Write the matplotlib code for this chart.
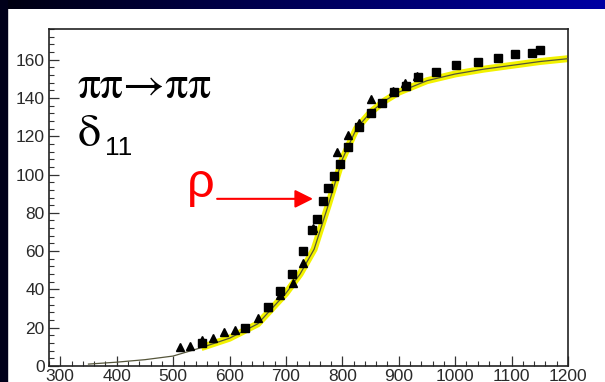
import numpy as np
import matplotlib
matplotlib.use('Agg')
import matplotlib.pyplot as plt
from matplotlib.ticker import MultipleLocator

# P-wave pi-pi phase shift delta_11 (degrees) vs. pi-pi invariant mass (MeV)

# fitted curve
fit_mass = [350, 400, 450, 500, 550, 600, 650, 700, 725, 750, 775, 800,
            825, 850, 875, 900, 950, 1000, 1050, 1100, 1150, 1200]
fit_delta = [1, 2, 3.3, 5.2, 9.6, 14.5, 22, 38, 48, 61, 84, 108,
             124, 132.5, 138.5, 143, 149, 152.5, 155, 157, 159, 160.5]

# first data set (squares)
sq_mass = [551, 627, 668, 690, 711, 731, 746, 755, 766, 775, 785, 796,
           810, 830, 851, 870, 891, 912, 934, 966, 1001, 1041, 1076,
           1106, 1136, 1150]
sq_delta = [12, 20, 31, 39, 48, 60, 71, 77, 86, 93, 99, 105.5,
            114.5, 125, 132, 137.5, 143, 146, 151, 153.7, 157, 159, 161,
            163, 163.7, 165]

# second data set (triangles)
tri_mass = [512, 530, 551, 570, 590, 610, 651, 668, 690, 712, 731, 748,
            790, 810, 830, 851, 890, 911, 932]
tri_delta = [10, 10.5, 13.5, 14.5, 17.8, 18.8, 25, 31, 37, 43.4, 54, 72,
             112, 120.8, 127, 139.6, 143.8, 148, 151.6]

fig = plt.figure(figsize=(6.05, 3.82), dpi=100)
fig.patch.set_facecolor('white')

# slide background: dark strip on the left, gradient bar on top
fig.patches.append(plt.Rectangle((0, 0), 7 / 605, 1, transform=fig.transFigure,
                                 color='#00001a', zorder=0))
bar = fig.add_axes([0, 1 - 9 / 382, 1, 9 / 382])
grad = np.linspace(0, 1, 256)
rgb = np.zeros((1, 256, 3))
rgb[0, :, 2] = 0.06 + 0.58 * grad
bar.imshow(rgb, aspect='auto', extent=(0, 1, 0, 1))
bar.axis('off')

ax = fig.add_axes([49 / 605, 1 - 366 / 382, 519 / 605, 337 / 382])
ax.set_xlim(280, 1200)
ax.set_ylim(0, 176)

fit_mass = np.array(fit_mass)
fit_delta = np.array(fit_delta)
band = fit_mass >= 550
ax.plot(fit_mass[band], fit_delta[band], color='#f2f200', lw=5,
        solid_capstyle='butt', zorder=2)
ax.plot(fit_mass, fit_delta, color='#55553a', lw=0.9, zorder=3)

ax.plot(sq_mass, sq_delta, ls='none', marker='s', ms=5.6, color='black', zorder=4)
ax.plot(tri_mass, tri_delta, ls='none', marker='^', ms=5.8, color='black', zorder=4)

ax.xaxis.set_major_locator(MultipleLocator(100))
ax.xaxis.set_minor_locator(MultipleLocator(20))
ax.yaxis.set_major_locator(MultipleLocator(20))
ax.yaxis.set_minor_locator(MultipleLocator(4))
ax.tick_params(which='both', direction='in', top=False, right=False,
               labelsize=12.5, labelcolor='#2a2a2a', color='#333333')
ax.tick_params(which='major', length=7, width=0.9)
ax.tick_params(which='minor', length=3.6, width=0.8)
ax.tick_params(axis='y', pad=3)
ax.tick_params(axis='x', pad=2.5)
for lab in ax.get_xticklabels() + ax.get_yticklabels():
    lab.set_family(['Liberation Sans', 'DejaVu Sans'])
for sp in ax.spines.values():
    sp.set_linewidth(1.2)
    sp.set_color('#222222')

symbol = ['STIXGeneral', 'DejaVu Serif']
ax.text(331, 140, 'ππ→ππ', fontsize=33, family=symbol,
        va='baseline', ha='left')
ax.text(331, 115, 'δ', fontsize=33, family=symbol, va='baseline', ha='left')
ax.text(380, 110, '11', fontsize=19, family=['Liberation Sans', 'DejaVu Sans'],
        va='baseline', ha='left')

ax.text(524, 88, 'ρ', fontsize=35, color='red', va='baseline', ha='left',
        family=['Liberation Sans', 'DejaVu Sans'])
ax.annotate('', xy=(748, 87.3), xytext=(578, 87.3),
            arrowprops=dict(arrowstyle='-|>,head_length=1.1,head_width=0.55',
                            mutation_scale=10, color='red', lw=1.5,
                            shrinkA=0, shrinkB=0))

fig.savefig('out.png', dpi=100)
